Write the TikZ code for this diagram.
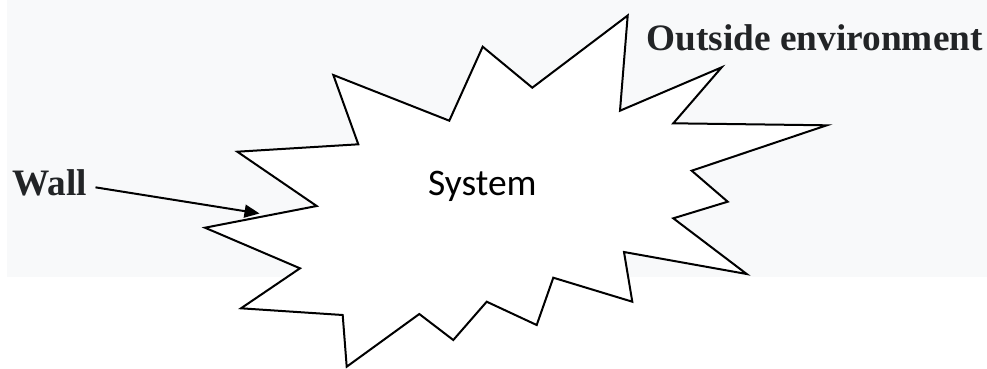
\documentclass[tikz,border=0pt]{standalone}
\usepackage{fontspec}
\setmainfont{Liberation Serif}
\newfontfamily\calib{Carlito}
\usetikzlibrary{arrows.meta}
\definecolor{bggray}{HTML}{F8F9FA}
\definecolor{txtdark}{HTML}{222426}
\tikzset{
  wallline/.style={line width=2bp, line join=miter},
  lbl/.style={font=\fontsize{37.3bp}{40bp}\selectfont\bfseries, text=txtdark, inner sep=0pt, anchor=base west},
  arr/.style={line width=2bp, -{Triangle[length=15bp,width=13bp]}}
}
\begin{document}
\begin{tikzpicture}[x=1bp,y=-1bp]
\useasboundingbox (0,0) rectangle (987,368);
\fill[bggray] (7,0) rectangle (987,276.7);
\draw[wallline, fill=white]
  (333.3,75) -- (449.3,120.7) -- (482.7,46.7) -- (532.3,87.7) -- (627.7,15.5)
  -- (620,110.7) -- (721.7,67.3) -- (673.3,123.3) -- (826.7,125.3)
  -- (691.7,170.7) -- (727.7,201.7) -- (673.3,218.3) -- (746.7,274)
  -- (624,252) -- (632.3,301.7) -- (553.3,277.7) -- (536.7,325)
  -- (486.7,301.7) -- (453.3,340) -- (419.3,314) -- (346.7,366.7)
  -- (342.7,315) -- (241,308.3) -- (300,268.3) -- (205,227.7)
  -- (316.7,206) -- (237.3,151.7) -- (358.3,144.3) -- cycle;
\node[inner sep=0pt, anchor=base west, font=\calib\fontsize{37.5bp}{40bp}\selectfont] (sys) at (428,195) {System};
\node[lbl] (wall) at (12.5,195) {Wall};
\node[lbl] (env) at (646.5,50) {Outside environment};
\coordinate (walltip) at (259.5,213.5);
\draw[arr] ([xshift=8bp,yshift=-5bp]wall.east) -- (walltip);
\end{tikzpicture}
\end{document}
